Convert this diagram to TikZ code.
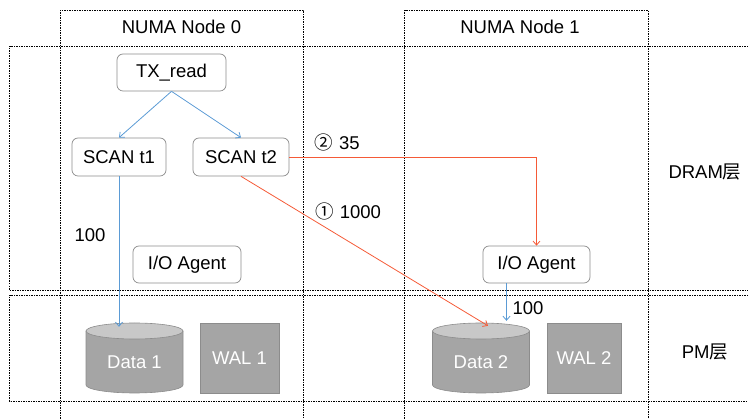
\documentclass[tikz,border=0pt]{standalone}
\usepackage{fontspec}
\setmainfont{Liberation Sans}
\newfontfamily\cjk{Noto Sans CJK SC}
\usetikzlibrary{arrows.meta,calc}
\definecolor{lineblue}{RGB}{91,155,213}
\definecolor{linered}{RGB}{245,90,55}
\definecolor{boxgray}{RGB}{140,140,140}
\definecolor{cylbody}{RGB}{165,165,165}
\definecolor{cyltop}{RGB}{200,200,200}
\begin{document}
\begin{tikzpicture}[x=1pt,y=-1pt, font=\fontsize{18.5}{22}\selectfont,
  region/.style={draw, line width=0.5pt, dash pattern=on 1.5pt off 1pt},
  rbox/.style={draw=boxgray, fill=white, rounded corners=6pt, line width=0.7pt, inner sep=0pt},
  blk/.style={fill=cylbody, draw=boxgray, line width=0.6pt, text=white, inner sep=0pt},
  cyltext/.style={text=white, inner sep=0pt, minimum width=97pt, minimum height=62pt},
  bluearrow/.style={draw=lineblue, line width=0.8pt, -{Straight Barb[length=4pt,width=7pt]}},
  redarrow/.style={draw=linered, line width=0.8pt, -{Straight Barb[length=4pt,width=7pt]}},
  plain/.style={inner sep=0pt}]
\useasboundingbox (0,0) rectangle (748,419);
% columns
\draw[region] (60,419) -- (60,10.5) -- (303,10.5) -- (303,419);
\draw[region] (404.5,419) -- (404.5,10.5) -- (648,10.5) -- (648,419);
% rows
\draw[region] (748,46.5) -- (9.5,46.5) -- (9.5,290.5) -- (748,290.5);
\draw[region] (748,295.5) -- (9.5,295.5) -- (9.5,401) -- (748,401);
% headers
\node[plain] (n0) at (181.5,27) {NUMA Node 0};
\node[plain] (n1) at (520,27) {NUMA Node 1};
\node[plain] (dram) at (705,172) {DRAM{\cjk 层}};
\node[plain] (pm) at (705,352) {PM{\cjk 层}};
% boxes
\node[rbox, minimum width=109pt, minimum height=37pt] (tx) at (171.5,72.5) {TX\_read};
\node[rbox, minimum width=94pt, minimum height=38pt] (s1) at (119,157) {SCAN t1};
\node[rbox, minimum width=96pt, minimum height=38pt] (s2) at (241,157) {SCAN t2};
\node[rbox, minimum width=108pt, minimum height=37pt] (io0) at (187,264.5) {I/O Agent};
\node[rbox, minimum width=107pt, minimum height=37pt] (io1) at (536.5,264.5) {I/O Agent};
% WAL
\node[blk, minimum width=79pt, minimum height=70pt] (w1) at (239.5,358) {WAL 1};
\node[blk, minimum width=74pt, minimum height=70pt] (w2) at (584,358) {WAL 2};
% cylinders
\foreach \cx in {134.5,481}{
  \fill[cylbody] ({\cx-48.5},331) -- ({\cx-48.5},385) arc[start angle=180,end angle=360,x radius=48.5pt,y radius=8pt] -- ({\cx+48.5},331) -- cycle;
  \draw[boxgray, line width=0.6pt] ({\cx-48.5},331) -- ({\cx-48.5},385) arc[start angle=180,end angle=360,x radius=48.5pt,y radius=8pt] -- ({\cx+48.5},331);
  \filldraw[fill=cyltop, draw=boxgray, line width=0.6pt] (\cx,331) ellipse[x radius=48.5pt, y radius=8pt];
}
\node[cyltext] (d1) at (134.5,362) {Data 1};
\node[cyltext] (d2) at (481,362) {Data 2};
% connectors
\draw[bluearrow] (tx.south) -- (s1.north);
\draw[bluearrow] (tx.south) -- (s2.north);
\draw[bluearrow] (s1.south) -- ($(s1.south |- d1.north)+(0,-4)$);
\draw[redarrow] (s2.east) -| (io1.north);
\draw[redarrow] (s2.south) -- ($(d2.north)+(7,-5)$);
\draw[bluearrow] ([xshift=-30pt]io1.south) -- ($([xshift=-30pt]io1.south |- d2.north)+(0,-10)$);
% labels
\node[plain] (l100a) at (90,235) {100};
\node[plain] (l100b) at (528,308) {100};
\node[plain] (l35) at (337,142) {{\cjk ②}\,\,35};
\node[plain] (l1000) at (348,211) {{\cjk ①}\,\,1000};
\end{tikzpicture}
\end{document}
